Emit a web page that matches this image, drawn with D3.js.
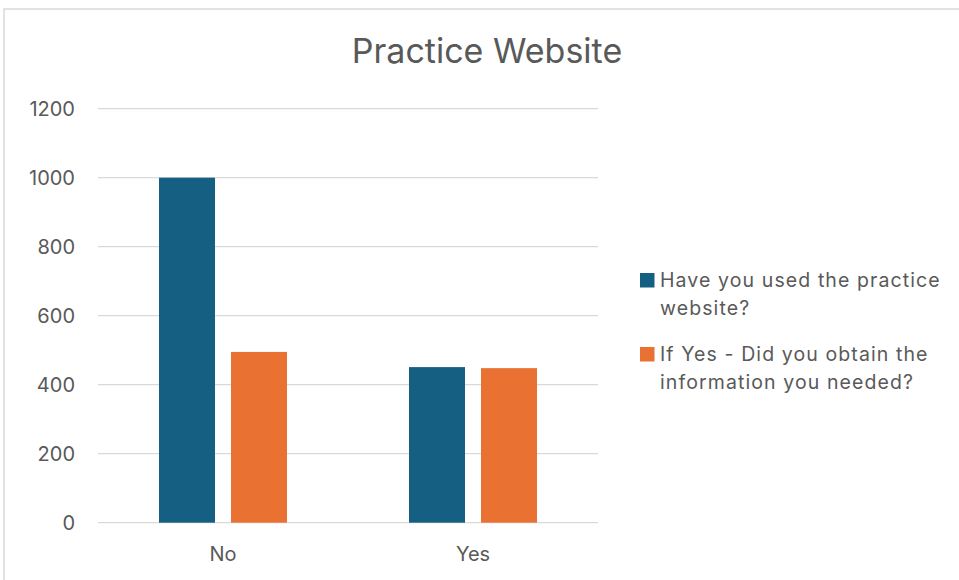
<!DOCTYPE html>
<html>
<head>
<meta charset="utf-8">
<title>Practice Website</title>
<script src="https://cdn.jsdelivr.net/npm/d3@7"></script>
<style>
  html, body {margin:0; padding:0; background:#fff;}
  svg {display:block; font-family:Inter, sans-serif;}
</style>
</head>
<body>
<svg id="chart" width="959" height="580"></svg>
<script>
// data
var categories = ["No", "Yes"];
var seriesNames = ["Have you used the practice website?", "If Yes - Did you obtain the information you needed?"];
var usedSite = [1000, 451];
var gotInfo = [495, 448];
var yTicks = [0, 200, 400, 600, 800, 1000, 1200];
var colors = ["#156082", "#E97132"];

var svg = d3.select("#chart");
var textColor = "#595959";
var font = "Inter, sans-serif";

// chart border
svg.append("rect").attr("x", 4).attr("y", 9).attr("width", 1000).attr("height", 600)
  .attr("fill", "#fff").attr("stroke", "#d9d9d9").attr("stroke-width", 1.5);

var plot = {left: 98, right: 598, top: 108.7, bottom: 522.7};

var y = d3.scaleLinear().domain([0, 1200]).range([plot.bottom, plot.top]);
var x0 = d3.scaleBand().domain(categories).range([plot.left, plot.right]);
var x1 = d3.scaleBand().domain([0, 1]).range([61, 189]).paddingInner(0.2222);

// gridlines
svg.append("g").selectAll("line").data(yTicks).join("line")
  .attr("x1", plot.left).attr("x2", plot.right)
  .attr("y1", function(d){return y(d)}).attr("y2", function(d){return y(d)})
  .attr("stroke", "#d9d9d9").attr("stroke-width", 1.3);

// y axis labels
var yAxis = svg.append("g").attr("transform", "translate(" + (plot.left - 23) + ",0)")
  .call(d3.axisLeft(y).tickValues(yTicks).tickFormat(d3.format("d")).tickSize(0).tickPadding(0));
yAxis.select(".domain").remove();
yAxis.selectAll("text").attr("fill", textColor).attr("font-size", 20)
  .attr("font-family", font).attr("dy", "0.35em");

// x axis labels
var xAxis = svg.append("g").attr("transform", "translate(0," + plot.bottom + ")")
  .call(d3.axisBottom(x0).tickSize(0).tickPadding(0));
xAxis.select(".domain").remove();
xAxis.selectAll("text").attr("fill", textColor).attr("font-size", 20)
  .attr("font-family", font).attr("dy", "1.9em");

// bars
var rows = categories.map(function(c, i){return {cat: c, vals: [usedSite[i], gotInfo[i]]}});
svg.append("g").selectAll("g").data(rows).join("g")
  .attr("transform", function(d){return "translate(" + x0(d.cat) + ",0)"})
  .selectAll("rect").data(function(d){return d.vals.map(function(v, k){return {k: k, v: v}})}).join("rect")
  .attr("x", function(d){return x1(d.k)}).attr("width", x1.bandwidth())
  .attr("y", function(d){return y(d.v)}).attr("height", function(d){return plot.bottom - y(d.v)})
  .attr("fill", function(d){return colors[d.k]});

// title
svg.append("text").attr("x", 487).attr("y", 63).attr("text-anchor", "middle")
  .attr("font-size", 34).attr("fill", textColor).text("Practice Website");

// legend
var legendLines = [["Have you used the practice", "website?"], ["If Yes - Did you obtain the", "information you needed?"]];
var leg = svg.append("g").selectAll("g").data(legendLines).join("g")
  .attr("transform", function(d, i){return "translate(640," + (273 + i * 74) + ")"});
leg.append("rect").attr("width", 14.5).attr("height", 14.5)
  .attr("fill", function(d, i){return colors[i]});
leg.append("text").attr("x", 20).attr("y", 13.7).attr("font-size", 19.5).attr("letter-spacing", 1.1)
  .attr("fill", textColor)
  .selectAll("tspan").data(function(d){return d}).join("tspan")
  .attr("x", 20).attr("dy", function(d, i){return i ? 28 : 0}).text(function(d){return d});
</script>
</body>
</html>
